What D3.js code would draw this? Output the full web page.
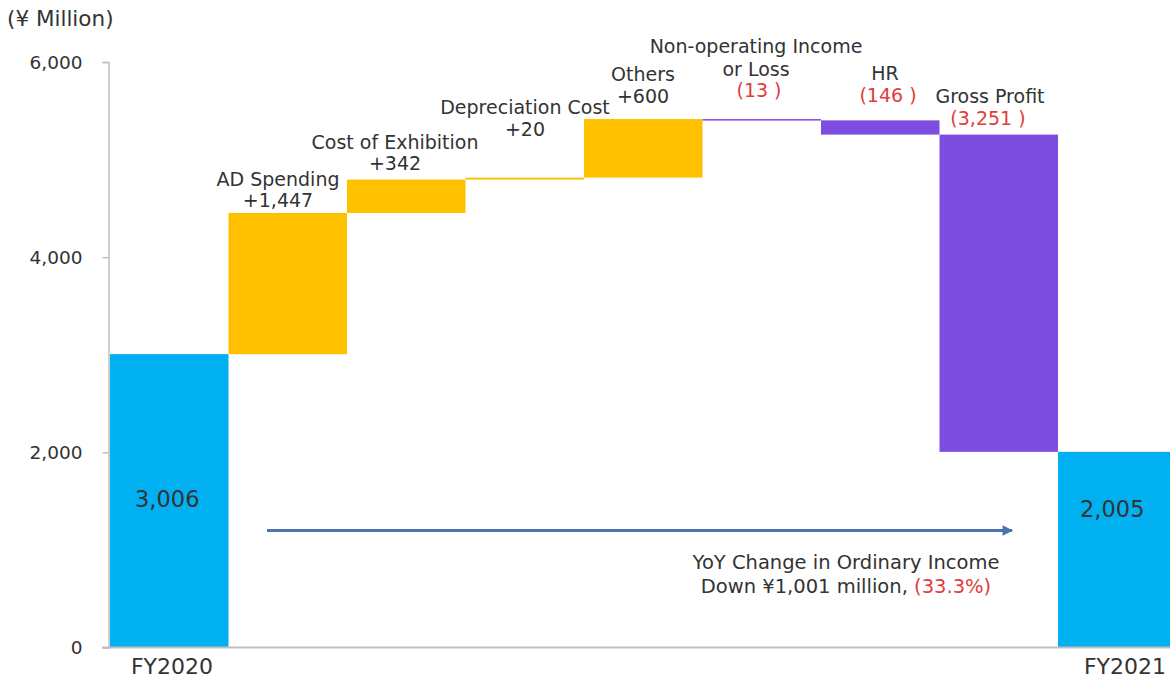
<!DOCTYPE html>
<html><head><meta charset="utf-8">
<script src="https://cdn.jsdelivr.net/npm/d3@7"></script>
<style>body{margin:0;background:#fff}svg{display:block}</style>
</head><body>
<svg id="c" width="1170" height="682"></svg>
<script>
const categories = ["FY2020","AD Spending","Cost of Exhibition","Depreciation Cost","Others","Non-operating Income or Loss","HR","Gross Profit","FY2021"];
const deltas = [3006, 1447, 342, 20, 600, -13, -146, -3251, null];
const kinds = ["total","up","up","up","up","down","down","down","total"];
const labelLines = [
  [],
  ["AD Spending"],
  ["Cost of Exhibition"],
  ["Depreciation Cost"],
  ["Others"],
  ["Non-operating Income","or Loss"],
  ["HR"],
  ["Gross Profit"],
  []
];
const valueLabels = ["3,006","+1,447","+342","+20","+600","(13 )","(146 )","(3,251 )","2,005"];
const yTicks = [0, 2000, 4000, 6000];
const xTickLabels = ["FY2020","FY2021"];

const colors = {total:"#00B0F0", up:"#FFC000", down:"#7D4CE0"};
const font = "'DejaVu Sans', sans-serif";

let run = 0;
const bars = categories.map((c,i)=>{
  if (kinds[i]==="total") {
    const v = deltas[i]===null ? run : deltas[i];
    run = v;
    return {c, y0:0, y1:v, kind:"total"};
  }
  const y0 = run; run += deltas[i];
  return {c, y0:Math.min(y0,run), y1:Math.max(y0,run), kind:kinds[i]};
});

const svg = d3.select("#c");
const x = d3.scaleBand().domain(categories).range([110, 1176.5]).padding(0);
const y = d3.scaleLinear().domain([0, 6000]).range([647.5, 62]);

svg.append("g").selectAll("rect").data(bars).join("rect")
  .attr("x", d=>x(d.c)).attr("width", x.bandwidth())
  .attr("y", d=>y(d.y1)).attr("height", d=>Math.max(1.5, y(d.y0)-y(d.y1)))
  .attr("fill", d=>colors[d.kind]);

const yAxis = svg.append("g").attr("transform","translate(108.5,0)")
  .call(d3.axisLeft(y).tickValues(yTicks).tickSize(6).tickPadding(20).tickFormat(d3.format(",")));
yAxis.select(".domain").attr("stroke","#bfbfbf").attr("stroke-width",1.5);
yAxis.selectAll(".tick line").attr("stroke","#bfbfbf").attr("stroke-width",1.5);
yAxis.selectAll("text").attr("font-family",font).attr("font-size",18.5).attr("fill","#333").attr("dy","0.35em");

svg.append("line").attr("x1",102).attr("x2",1170).attr("y1",y(0)).attr("y2",y(0))
  .attr("stroke","#bfbfbf").attr("stroke-width",2);

svg.append("text").attr("x", 172).attr("y",674)
  .attr("text-anchor","middle").attr("font-family",font).attr("font-size",22).attr("fill","#333").text(xTickLabels[0]);
svg.append("text").attr("x", 1166).attr("y",674)
  .attr("text-anchor","end").attr("font-family",font).attr("font-size",22).attr("fill","#333").text(xTickLabels[1]);

svg.append("text").attr("x",7).attr("y",26).attr("font-family",font).attr("font-size",21.5).attr("fill","#333").text("(¥ Million)");

svg.append("text").attr("x", x("FY2020")+x.bandwidth()/2 - 2).attr("y",507)
  .attr("text-anchor","middle").attr("font-family",font).attr("font-size",22.5).attr("fill","#333").text(valueLabels[0]);
svg.append("text").attr("x", x("FY2021")+x.bandwidth()/2 - 5).attr("y",517)
  .attr("text-anchor","middle").attr("font-family",font).attr("font-size",22.5).attr("fill","#333").text(valueLabels[8]);

const labelPos = [
  null,
  {cx:278, ys:[186], vy:207},
  {cx:395, ys:[149], vy:170},
  {cx:525, ys:[114], vy:136},
  {cx:643, ys:[81], vy:103},
  {cx:756, ys:[53,76], vy:97},
  {cx:885, ys:[80], vy:102},
  {cx:990, ys:[103], vy:125},
  null
];
categories.forEach((c,i)=>{
  const p = labelPos[i]; if(!p) return;
  labelLines[i].forEach((t,j)=>{
    svg.append("text").attr("x",p.cx).attr("y",p.ys[j]).attr("text-anchor","middle")
      .attr("font-family",font).attr("font-size",19).attr("fill","#333").text(t);
  });
  svg.append("text").attr("x",p.cx + (kinds[i]==="down"? (i===7?-2:3):0)).attr("y",p.vy).attr("text-anchor","middle")
    .attr("font-family",font).attr("font-size",19).attr("fill", kinds[i]==="down" ? "#E03C3C" : "#333").text(valueLabels[i]);
});

const defs = svg.append("defs");
defs.append("marker").attr("id","ah").attr("viewBox","0 0 10 10").attr("refX",9).attr("refY",5)
  .attr("markerWidth",4).attr("markerHeight",3.5).attr("orient","auto").attr("markerUnits","strokeWidth")
  .append("path").attr("d","M0,0 L10,5 L0,10 Z").attr("fill","#4A74AE");
svg.append("line").attr("x1",267).attr("x2",1012).attr("y1",530.5).attr("y2",530.5)
  .attr("stroke","#4A74AE").attr("stroke-width",3).attr("marker-end","url(#ah)");

svg.append("text").attr("x",846).attr("y",569).attr("text-anchor","middle")
  .attr("font-family",font).attr("font-size",19.5).attr("fill","#333").text("YoY Change in Ordinary Income");
const t2 = svg.append("text").attr("x",846).attr("y",593).attr("text-anchor","middle")
  .attr("font-family",font).attr("font-size",19.5).attr("fill","#333");
t2.append("tspan").text("Down ¥1,001 million, ");
t2.append("tspan").attr("fill","#E03C3C").text("(33.3%)");
</script>
</body></html>
